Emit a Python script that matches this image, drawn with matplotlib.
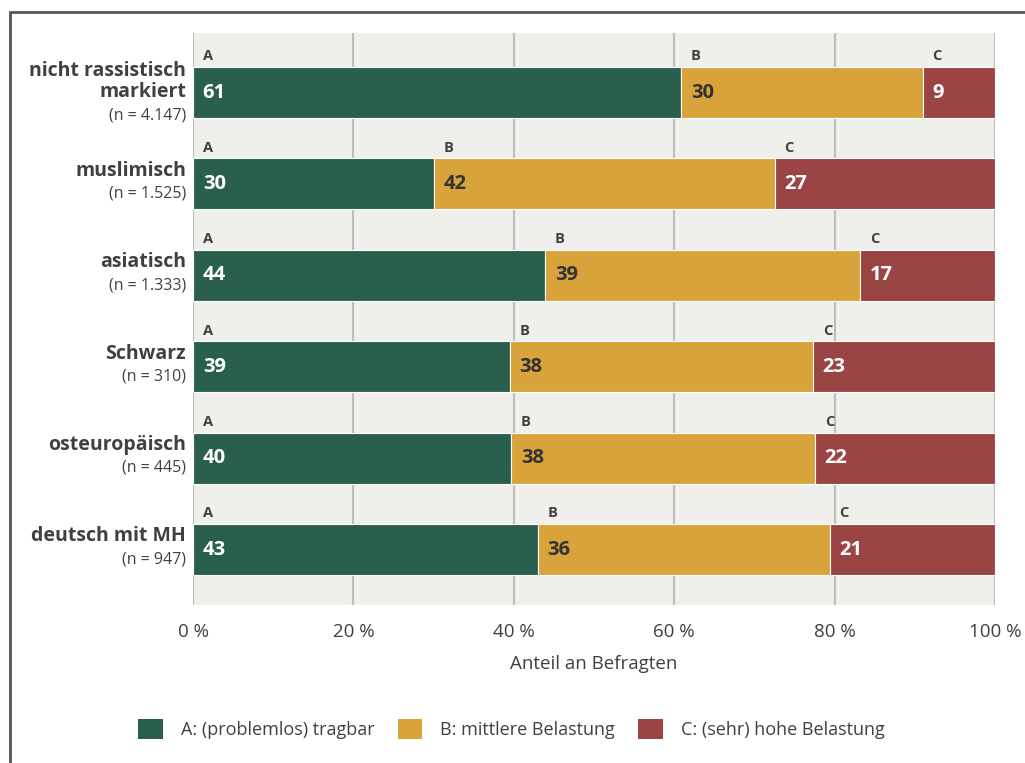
import matplotlib
matplotlib.use("Agg")
import matplotlib.pyplot as plt
from matplotlib.patches import Rectangle, Patch

plt.rcParams['font.family'] = ['Open Sans', 'DejaVu Sans']

categories = ["nicht rassistisch\nmarkiert", "muslimisch", "asiatisch", "Schwarz", "osteuropäisch", "deutsch mit MH"]
sample_sizes = ["(n = 4.147)", "(n = 1.525)", "(n = 1.333)", "(n = 310)", "(n = 445)", "(n = 947)"]
share_a = [60.85, 30.05, 43.9, 39.5, 39.65, 43.0]
share_b = [30.15, 42.5, 39.3, 37.8, 37.9, 36.4]
share_c = [9.0, 27.4, 16.8, 22.7, 22.4, 20.6]
labels_a = [61, 30, 44, 39, 40, 43]
labels_b = [30, 42, 39, 38, 38, 36]
labels_c = [9, 27, 17, 23, 22, 21]
series_letters = ["A", "B", "C"]
legend_labels = ["A: (problemlos) tragbar", "B: mittlere Belastung", "C: (sehr) hohe Belastung"]
xticks = [0, 20, 40, 60, 80, 100]
xlabel = "Anteil an Befragten"

colors = ["#2A5F4E", "#D8A33B", "#9B4444"]
text_colors = ["white", "#333333", "white"]
dark = "#404040"

fig = plt.figure(figsize=(10.25, 7.63), dpi=100)
ax = fig.add_axes([193/1025, 1-605/763, (995-193)/1025, (605-33)/763])
ax.set_facecolor("#EFF0EB")
for s in ax.spines.values():
    s.set_visible(False)

ax.set_xlim(0, 100)
ax.set_ylim(len(categories) - 1 + 0.607, -0.651)
ax.set_xticks(xticks)
ax.set_xticklabels([f"{t} %" for t in xticks], fontsize=13.5, color=dark)
ax.tick_params(axis='x', length=0, pad=13)
ax.set_yticks([])
ax.xaxis.grid(True, color="#BDBDBD", linewidth=1.5)
ax.set_axisbelow(True)
ax.set_xlabel(xlabel, fontsize=13.5, color=dark, labelpad=10)

bar_h = 0.56
series = [share_a, share_b, share_c]
series_labels = [labels_a, labels_b, labels_c]
ys = list(range(len(categories)))
lefts = [0.0] * len(categories)
for k in range(3):
    ax.barh(ys, series[k], left=lefts, height=bar_h, color=colors[k],
            edgecolor="white", linewidth=0.8, zorder=3)
    for i, y in enumerate(ys):
        ax.annotate(str(series_labels[k][i]), xy=(lefts[i], y), xytext=(7, 0),
                    textcoords="offset points", ha="left", va="center",
                    fontsize=14.5, fontweight="bold", color=text_colors[k], zorder=4)
        ax.annotate(series_letters[k], xy=(lefts[i], y - bar_h/2), xytext=(7, 2.5),
                    textcoords="offset points", ha="left", va="bottom",
                    fontsize=10.5, fontweight="bold", color=dark, zorder=4)
    lefts = [l + v for l, v in zip(lefts, series[k])]

for i, y in enumerate(ys):
    two_line = "\n" in categories[i]
    main_off = 8 if two_line else 9.5
    n_off = -16.5 if two_line else -7
    ax.annotate(categories[i], xy=(0, y), xycoords=('axes fraction', 'data'),
                xytext=(-5, main_off), textcoords="offset points", ha="right",
                va="center", fontsize=14, fontweight="bold", color=dark,
                linespacing=1.05)
    ax.annotate(sample_sizes[i], xy=(0, y), xycoords=('axes fraction', 'data'),
                xytext=(-5, n_off), textcoords="offset points", ha="right",
                va="center", fontsize=11.5, color=dark)

handles = [Patch(facecolor=c, edgecolor='none') for c in colors]
fig.legend(handles, legend_labels, loc="center", bbox_to_anchor=(0.499, 1-729/763),
           ncol=3, frameon=False, fontsize=13, handlelength=1.35, handleheight=1.35,
           handletextpad=1.0, columnspacing=1.3, labelcolor=dark)

frame = Rectangle((10/1025, -0.1), 1.2, 1 - 12/763 + 0.1, transform=fig.transFigure,
                  fill=False, edgecolor="#555555", linewidth=2, clip_on=False)
fig.add_artist(frame)

fig.savefig("out.png", dpi=100, facecolor="white")
